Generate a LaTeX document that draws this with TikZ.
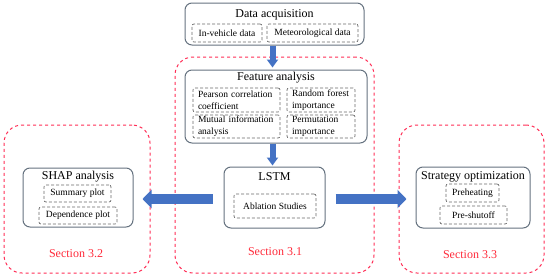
\documentclass[tikz,border=0pt]{standalone}
\usepackage{fontspec}
\setmainfont{Liberation Serif}
\usetikzlibrary{arrows.meta}
\definecolor{boxgray}{HTML}{65727F}
\definecolor{dashgray}{HTML}{6A6A6A}
\definecolor{secred}{HTML}{FF2D55}
\definecolor{sectxt}{HTML}{FF2A3A}
\definecolor{arrblue}{HTML}{4472C4}
\tikzset{
  mainbox/.style={draw=boxgray, line width=1pt, rounded corners=7pt, inner sep=0pt},
  subbox/.style={draw=dashgray, densely dashed, line width=0.7pt, rounded corners=2pt, inner sep=0pt, font=\fontsize{9.5}{12}\selectfont},
  twoline/.style={subbox, align=left, inner xsep=5pt, text width=#1},
  secbox/.style={draw=secred, dashed, line width=1pt, rounded corners=18pt, inner sep=0pt},
  titletext/.style={font=\fontsize{12}{14}\selectfont, inner sep=0pt},
  sectext/.style={font=\fontsize{12}{14}\selectfont, text=sectxt, inner sep=0pt},
  varrow/.style={arrblue, line width=6pt, -{Triangle[width=11pt,length=8pt]}},
  harrow/.style={arrblue, line width=10pt, -{Triangle[width=18pt,length=9pt]}},
}
\begin{document}
\begin{tikzpicture}[x=1pt,y=-1pt]
\useasboundingbox (0,0) rectangle (550,279);
% section boxes
\node[secbox, minimum width=199pt, minimum height=216pt] (sec1) at (274.5,165) {};
\node[secbox, minimum width=146pt, minimum height=148pt] (sec2) at (77,199) {};
\node[secbox, minimum width=145pt, minimum height=148pt] (sec3) at (471.5,199) {};
\node[sectext] (s1) at (275,252) {Section 3.1};
\node[sectext] (s2) at (76,254) {Section 3.2};
\node[sectext] (s3) at (470,255) {Section 3.3};
% data acquisition
\node[mainbox, minimum width=179pt, minimum height=42pt] (data) at (274.5,24) {};
\node[titletext] (datat) at (274.5,15) {Data acquisition};
\node[subbox, minimum width=70pt, minimum height=18pt] (inveh) at (227,33) {In-vehicle data};
\node[subbox, minimum width=91pt, minimum height=18pt] (meteo) at (312.5,33) {Meteorological data};
% feature analysis
\node[mainbox, minimum width=182pt, minimum height=73pt] (feat) at (276,106.5) {};
\node[titletext] (featt) at (276,78) {Feature analysis};
\node[twoline=77pt, minimum height=24pt] (pear) at (236.5,100) {Pearson correlation\\coefficient};
\node[twoline=58pt, minimum height=24pt] (rf) at (321,100) {Random forest\\importance};
\node[twoline=77pt, minimum height=23pt] (mut) at (236.5,126.5) {Mutual information\\analysis};
\node[twoline=58pt, minimum height=23pt] (perm) at (321,126.5) {Permutation\\importance};
% LSTM
\node[mainbox, minimum width=101pt, minimum height=61pt] (lstm) at (274.5,197.5) {};
\node[titletext] (lstmt) at (274.5,177) {LSTM};
\node[subbox, minimum width=82pt, minimum height=24pt] (abl) at (275,206) {Ablation Studies};
% SHAP
\node[mainbox, minimum width=110pt, minimum height=59pt] (shap) at (78,197.5) {};
\node[titletext] (shapt) at (78,177) {SHAP analysis};
\node[subbox, minimum width=67pt, minimum height=17pt] (summ) at (77.5,193.5) {Summary plot};
\node[subbox, minimum width=78pt, minimum height=17pt] (dep) at (78,215.5) {Dependence plot};
% Strategy
\node[mainbox, minimum width=114pt, minimum height=61pt] (strat) at (473,197.5) {};
\node[titletext] (stratt) at (473,177) {Strategy optimization};
\node[subbox, minimum width=53pt, minimum height=18pt] (preh) at (472.5,193) {Preheating};
\node[subbox, minimum width=67pt, minimum height=18pt] (pres) at (473.5,215) {Pre-shutoff};
% arrows
\draw[varrow, shorten >=2pt] ([xshift=-2pt]data.south) -- ([xshift=-3.5pt]feat.north);
\draw[varrow, shorten >=1pt] ([xshift=-3.5pt]feat.south) -- ([xshift=-2pt]lstm.north);
\draw[harrow, shorten <=11pt, shorten >=9pt] (lstm.west |- 0,199) -- (shap.east |- 0,199);
\draw[harrow, shorten <=10pt, shorten >=9pt] (lstm.east |- 0,199) -- (strat.west |- 0,199);
\end{tikzpicture}
\end{document}
